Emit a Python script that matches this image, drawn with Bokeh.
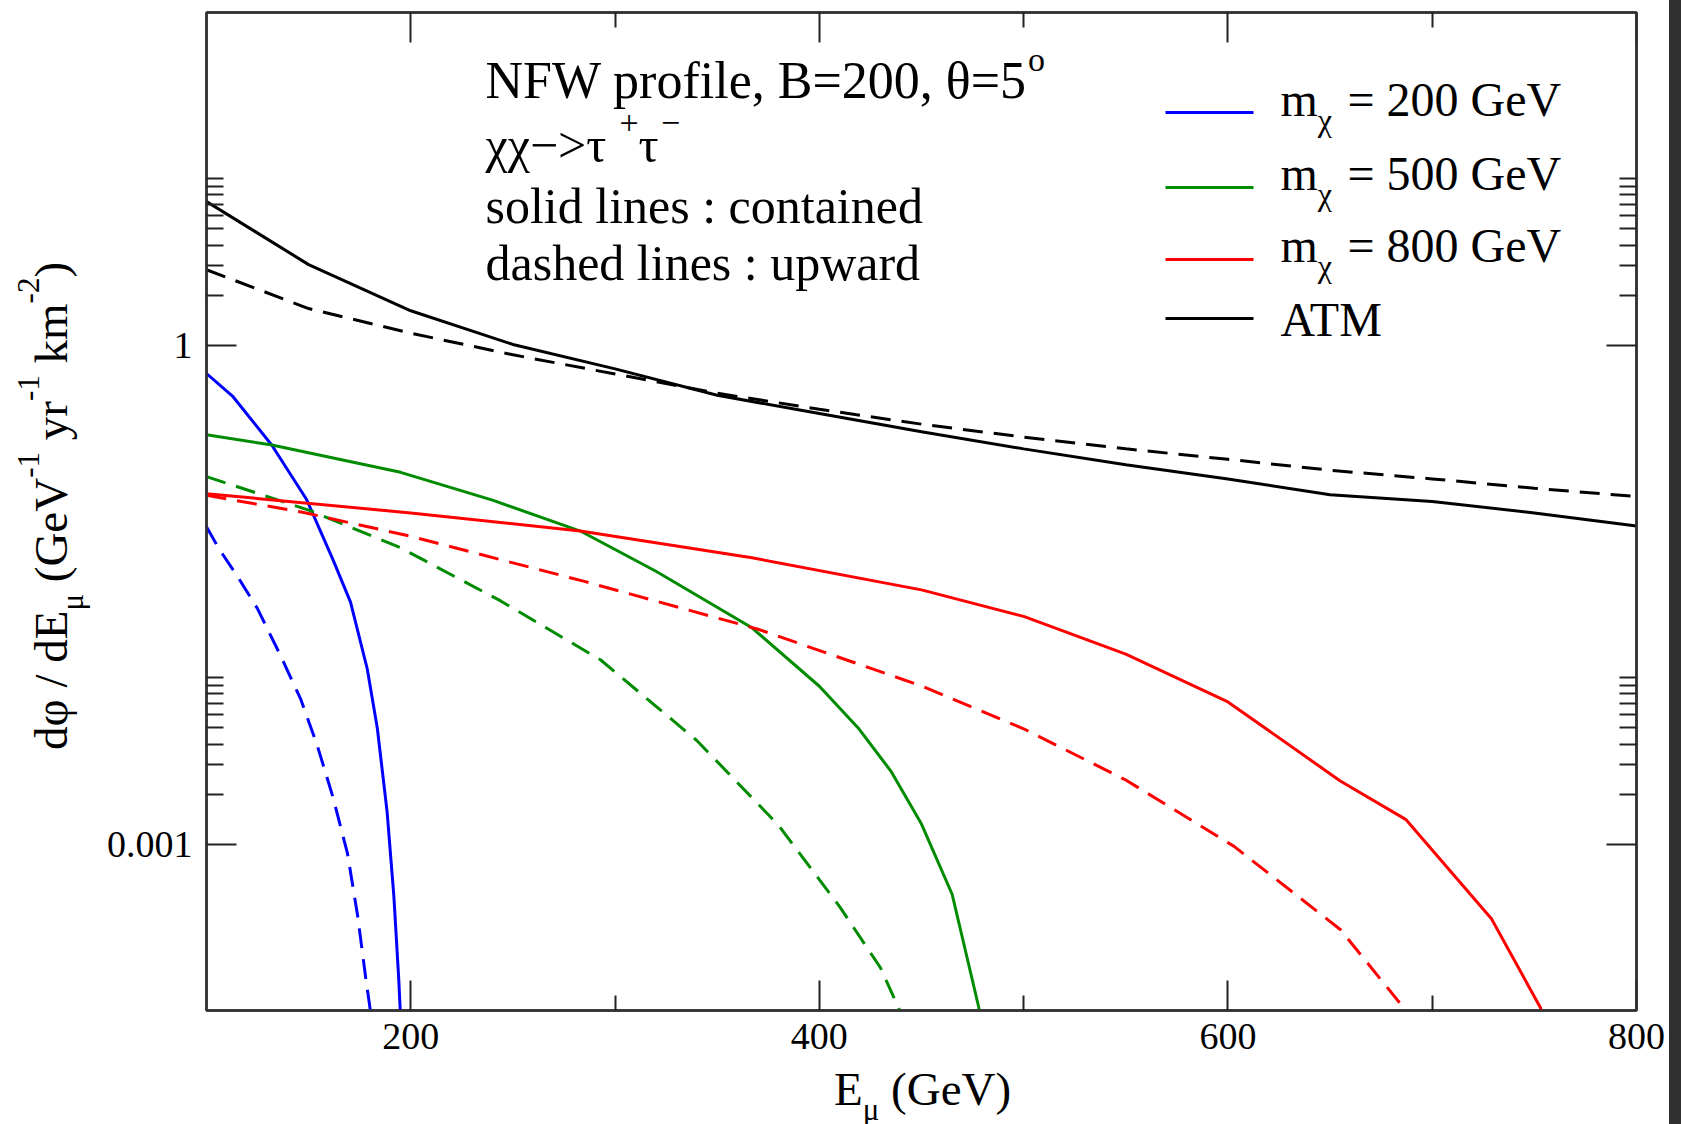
from bokeh.plotting import figure
from bokeh.models import (Range1d, FixedTicker, LinearAxis, LogAxis, Label,
                          CustomJSTickFormatter, Div)
from bokeh.layouts import row, column
from bokeh.embed import file_html
from bokeh.resources import INLINE

# ---------------- data ----------------
atm_E = [100, 150, 200, 250, 300, 350, 400, 450, 500, 550, 600, 650, 700, 750, 800]
atm_contained = [7.3, 3.05, 1.61, 1.01, 0.72, 0.50, 0.388, 0.302, 0.238, 0.191,
                 0.157, 0.126, 0.115, 0.098, 0.0818]
atm_upward = [2.84, 1.66, 1.18, 0.875, 0.671, 0.514, 0.412, 0.335, 0.280, 0.238,
              0.206, 0.177, 0.157, 0.138, 0.123]

m200_E_cont = [100, 113, 132, 149, 162, 170.5, 178.7, 183.6, 188.4, 191.7, 194.1, 196]
m200_cont = [0.675, 0.49, 0.25, 0.118, 0.051, 0.0285, 0.0113, 0.005, 0.00157,
             0.00049, 0.000155, 0.00005]
m200_E_up = [100, 106, 115, 125, 136, 146, 154, 162, 169, 174, 178, 182]
m200_up = [0.081, 0.060, 0.041, 0.026, 0.0138, 0.0075, 0.0040, 0.0019, 0.00088,
           0.00037, 0.000155, 0.00007]

m500_E_cont = [100, 132, 195, 240, 283, 320, 367, 400, 419, 435, 450, 465, 478, 480]
m500_cont = [0.289, 0.251, 0.172, 0.117, 0.0763, 0.0437, 0.0200, 0.0089, 0.0050,
             0.00275, 0.00132, 0.0005, 0.000105, 0.00007]
m500_E_up = [100, 150, 195, 244, 293, 340, 380, 410, 430, 441]
m500_up = [0.162, 0.102, 0.0605, 0.029, 0.0128, 0.0042, 0.0013, 0.00042, 0.00018, 0.00009]

m800_E_cont = [100, 200, 283, 367, 450, 500, 550, 600, 655, 687, 729, 753, 756]
m800_cont = [0.128, 0.098, 0.0763, 0.0527, 0.0338, 0.0234, 0.0139, 0.00716, 0.0024,
             0.00141, 0.000356, 0.000104, 0.00007]
m800_E_up = [100, 147, 200, 285, 370, 450, 500, 550, 603, 655, 686, 688]
m800_up = [0.125, 0.099, 0.0709, 0.038, 0.0196, 0.00894, 0.00494, 0.00243, 0.00097,
           0.000307, 0.000104, 0.00009]

legend_labels = ["200 GeV", "500 GeV", "800 GeV"]
x_major = [200, 400, 600, 800]
x_minor = [300, 500, 700]
y_major = [0.001, 1]
y_minor = [0.002, 0.003, 0.004, 0.005, 0.006, 0.007, 0.008, 0.009, 0.01,
           2, 3, 4, 5, 6, 7, 8, 9, 10]

# ---------------- layout constants ----------------
X0, X1 = 100, 800
LY0, LY1 = -4, 2
FX0, FX1, FY0, FY1 = 206, 1636, 12, 1010   # frame, absolute page pixels
PAGE_W, PAGE_H = 1681, 1124
STRIP_W = 12
WL = 90                                      # width of the y-title column
HP = 1072                                    # height of the figure
W_P = PAGE_W - STRIP_W - WL                  # width of the figure
FONT = "Liberation Serif"

BLUE, GREEN, RED, BLACK = "#0000ff", "#008b00", "#ff0000", "#000000"
DASH = "20 11"


def px2x(px):
    return X0 + (px - FX0) / (FX1 - FX0) * (X1 - X0)


def py2y(py):
    return 10 ** (LY1 - (py - FY0) / (FY1 - FY0) * (LY1 - LY0))


WID = {' ': .25, '\u00a0': .25, '(': .333, ')': .333, '/': .278, '-': .333,
       '\u2212': .564, '.': .25, ',': .25, ':': .278, '=': .564, '>': .564, '+': .564,
       'A': .722, 'B': .667, 'E': .611, 'F': .556, 'G': .722, 'M': .889, 'N': .722,
       'T': .611, 'V': .722, 'W': .944,
       'a': .444, 'c': .444, 'd': .5, 'e': .444, 'f': .333, 'h': .5, 'i': .278,
       'k': .5, 'l': .278, 'm': .778, 'n': .5, 'o': .5, 'p': .5, 'r': .333,
       's': .389, 't': .278, 'u': .5, 'w': .722, 'y': .5,
       '\u03c7': .55, '\u03b8': .5, '\u03bc': .53, '\u03c4': .45, '\u03c6': .58}


def tw(s, size):
    return sum(WID.get(c, .5) for c in s) * size


p = figure(width=W_P, height=HP, x_range=Range1d(X0, X1),
           y_range=Range1d(10 ** LY0, 10 ** LY1), y_axis_type="log",
           output_backend="svg", toolbar_location=None,
           min_border_left=FX0 - WL, min_border_right=(WL + W_P) - FX1,
           min_border_top=FY0, min_border_bottom=HP - FY1)
p.xgrid.visible = False
p.ygrid.visible = False
p.background_fill_color = "white"
p.border_fill_color = "white"
p.outline_line_color = "#333333"
p.outline_line_width = 2.5

bottom = p.below[0]
left = p.left[0]


def rich(pieces, x0, y0):
    adv = 0.0
    for text, size, shift in pieces:
        px, py = x0 + adv, y0 - shift - 0.35 * size
        p.add_layout(Label(x=px2x(px), y=py2y(py), text=text,
                           text_font_size=f"{size}px", text_font=FONT,
                           text_color="black",
                           text_align="left", text_baseline="alphabetic"))
        adv += tw(text, size)


# ---------------- curves ----------------
p.line(atm_E, atm_contained, line_color=BLACK, line_width=3)
p.line(atm_E, atm_upward, line_color=BLACK, line_width=3, line_dash=DASH)
p.line(m200_E_cont, m200_cont, line_color=BLUE, line_width=3)
p.line(m200_E_up, m200_up, line_color=BLUE, line_width=3, line_dash=DASH)
p.line(m500_E_cont, m500_cont, line_color=GREEN, line_width=3)
p.line(m500_E_up, m500_up, line_color=GREEN, line_width=3, line_dash=DASH)
p.line(m800_E_cont, m800_cont, line_color=RED, line_width=3)
p.line(m800_E_up, m800_up, line_color=RED, line_width=3, line_dash=DASH)

# ---------------- axes ----------------
xt = FixedTicker(ticks=x_major, minor_ticks=x_minor)
yt = FixedTicker(ticks=y_major, minor_ticks=y_minor)
bottom.ticker = xt
left.ticker = yt
left.formatter = CustomJSTickFormatter(code="return String(Number(tick.toPrecision(3)));")

top = LinearAxis(ticker=xt)
right = LogAxis(ticker=yt)
p.add_layout(top, "above")
p.add_layout(right, "right")

for ax in [bottom, top]:
    ax.major_tick_in = 30
    ax.minor_tick_in = 15
for ax in [left, right]:
    ax.major_tick_in = 30
    ax.minor_tick_in = 17
for ax in [bottom, left, top, right]:
    ax.major_tick_out = 0
    ax.minor_tick_out = 0
    ax.axis_line_color = "#333333"
    ax.axis_line_width = 2.5
    ax.major_tick_line_color = "#222222"
    ax.minor_tick_line_color = "#222222"
    ax.major_tick_line_width = 2
    ax.minor_tick_line_width = 2
    ax.major_label_text_font = FONT
    ax.major_label_text_color = "black"
    ax.major_label_text_font_size = "38px"
for ax in [top, right]:
    ax.major_label_text_font_size = "0px"
    ax.major_label_standoff = 0
    ax.formatter = CustomJSTickFormatter(code="return '';")
bottom.major_label_standoff = 13
left.major_label_standoff = 14

# ---------------- annotation text ----------------
rich([("NFW profile, B=200, \u03b8=5", 52, 0), ("o", 34, 27)], 485, 98)
rich([("\u03c7\u03c7\u2212>\u03c4", 50, 0), ("+", 34, 28), ("\u03c4", 50, 0),
      ("\u2212", 34, 28)], 485, 162)
rich([("solid lines : contained", 50, 0)], 485, 223)
rich([("dashed lines : upward", 50, 0)], 485, 280)

# ---------------- legend ----------------
leg_colors = [BLUE, GREEN, RED, BLACK]
leg_line_y = [112, 187, 259, 318]
leg_text_y = [116, 190, 262, 336]
for i, c in enumerate(leg_colors):
    p.line([px2x(1165), px2x(1253)], [py2y(leg_line_y[i])] * 2, line_color=c, line_width=3)
for i, lab in enumerate(legend_labels):
    rich([("m", 48, 0), ("\u03c7", 32, -15), ("\u00a0= " + lab, 48, 0)], 1280, leg_text_y[i])
rich([("ATM", 48, 0)], 1280, leg_text_y[3])

# ---------------- axis titles (HTML text with sub/superscripts) ----------------
BASE = ("font-family:'Liberation Serif',serif; color:black; white-space:nowrap; "
        "font-size:47px; line-height:47px;")
BASELINE_OFF = 39.3   # baseline position inside a 47px line box


def sup(t):
    return ('<span style="font-size:31px; position:relative; top:-28px; '
            'line-height:0">' + t + '</span>')


def sub(t, d=16):
    return ('<span style="font-size:31px; position:relative; top:%dpx; '
            'line-height:0">' % d + t + '</span>')


y_title = ("d\u03c6 / dE" + sub("\u03bc") + " (GeV" + sup("-1") + " yr" + sup("-1")
           + " km" + sup("-2") + ")")
x_title = "E" + sub("\u03bc", 15) + " (GeV)"

ydiv = Div(text=('<div style="position:relative; width:%dpx; height:%dpx;">'
                 '<div style="position:absolute; left:0; top:0; transform-origin:0 0; '
                 'transform:translate(%.1fpx, 750px) rotate(-90deg); %s">%s</div></div>')
           % (WL, PAGE_H, 67 - BASELINE_OFF, BASE, y_title),
           width=WL, height=PAGE_H, margin=0)
xdiv = Div(text=('<div style="position:relative; width:%dpx; height:%dpx;">'
                 '<div style="position:absolute; left:%dpx; top:%.1fpx; %s">%s</div></div>')
           % (W_P, PAGE_H - HP, 834 - WL, 1105 - HP - BASELINE_OFF, BASE, x_title),
           width=W_P, height=PAGE_H - HP, margin=0)
strip = Div(text="", width=STRIP_W, height=PAGE_H, margin=0,
            styles={"background-color": "#2f2f2f"})

layout = row(ydiv, column(p, xdiv, spacing=0), strip, spacing=0)

open("out.html", "w").write(file_html(layout, INLINE))
